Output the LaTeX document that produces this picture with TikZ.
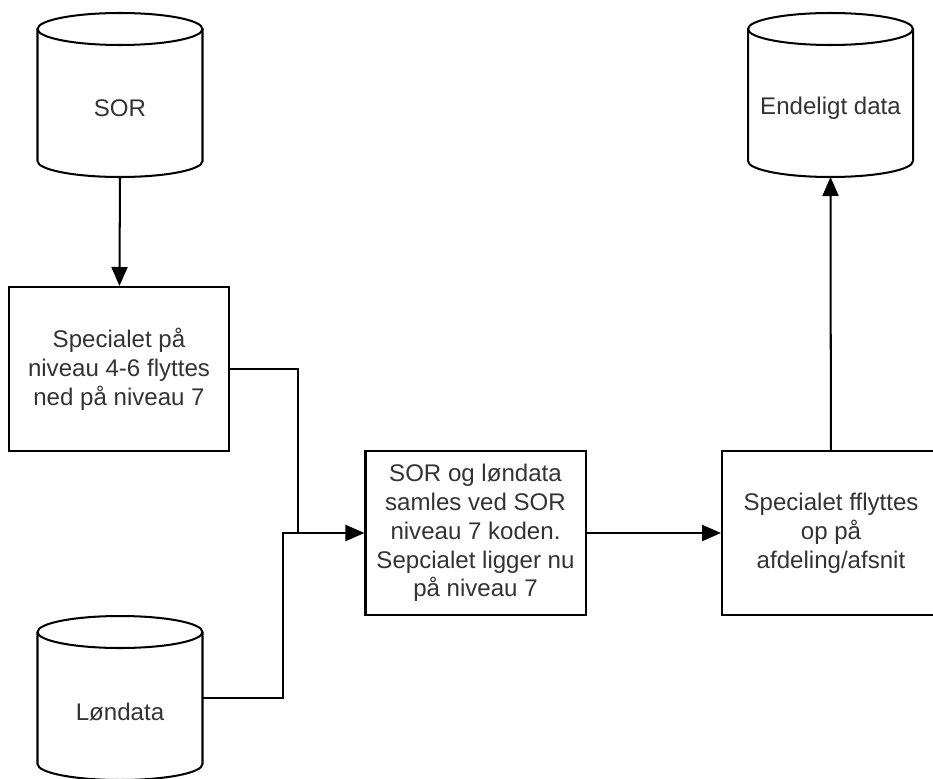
\documentclass[tikz,border=0pt]{standalone}
\usepackage{fontspec}
\setmainfont{Liberation Sans}
\usetikzlibrary{arrows.meta, calc, positioning}
\definecolor{txtgray}{HTML}{333333}
\tikzset{
    pics/dbase/.style = {
        code = {%
        \coordinate (-center) at (0, 0);
        \coordinate (-text) at (0, -.27cm);
        \coordinate (-south) at (0, -1.64cm);
        \coordinate (-north) at (0, 1.64cm);
        \coordinate (-east) at (1.65cm, 0);
        \coordinate (-west) at (-1.65cm, 0);
        \draw[fill=white] (-1.65cm,1.32cm) -- (-1.65cm,-1.32cm)
            arc[start angle=180, end angle=360, x radius=1.65cm, y radius=.32cm]
            -- (1.65cm,1.32cm);
        \draw (0,1.32cm) ellipse[x radius=1.65cm, y radius=.32cm];
        }
    },
    stepbox/.style = {draw, minimum width=4.4cm, minimum height=3.28cm,
        align=center, text=txtgray},
    dbtext/.style = {text=txtgray},
}

\begin{document}
\begin{tikzpicture}[line width=1.15pt, >={Triangle[length=.38cm, width=.32cm]},
    font=\fontsize{13.7}{16.4}\selectfont]
\clip (0,0) rectangle (18.66,-15.56);

\pic(sor) at (2.4,-1.9) {dbase};
\node[dbtext] (sortxt) at (sor-text) {SOR};

\pic(end) at (16.61,-1.9) {dbase};
\node[dbtext] (endtxt) at (end-text) {Endeligt data};

\pic(lon) at (2.4,-13.96) {dbase};
\node[dbtext] (lontxt) at (lon-text) {Løndata};

\node[stepbox] (spec) at (2.38,-7.38) {Specialet på\\niveau 4-6 flyttes\\ned på niveau 7};
\node[stepbox] (samle) at (9.51,-10.66) {SOR og løndata\\samles ved SOR\\niveau 7 koden.\\Sepcialet ligger nu\\på niveau 7};
\node[stepbox, minimum width=4.36cm] (flyt) at (16.62,-10.66) {Specialet fflyttes\\op på\\afdeling/afsnit};

% connectors
\coordinate (drop) at (5.96,-10.66);
\coordinate (bend) at (5.66,-10.66);

\draw[->] (sor-south) -- (spec);
\draw (spec.east) -| (drop);
\draw[->] (lon-east) -| (bend) -- (samle.west);
\draw[->] (samle) -- (flyt);
\draw[->] (flyt) -- (end-south);
\end{tikzpicture}
\end{document}
